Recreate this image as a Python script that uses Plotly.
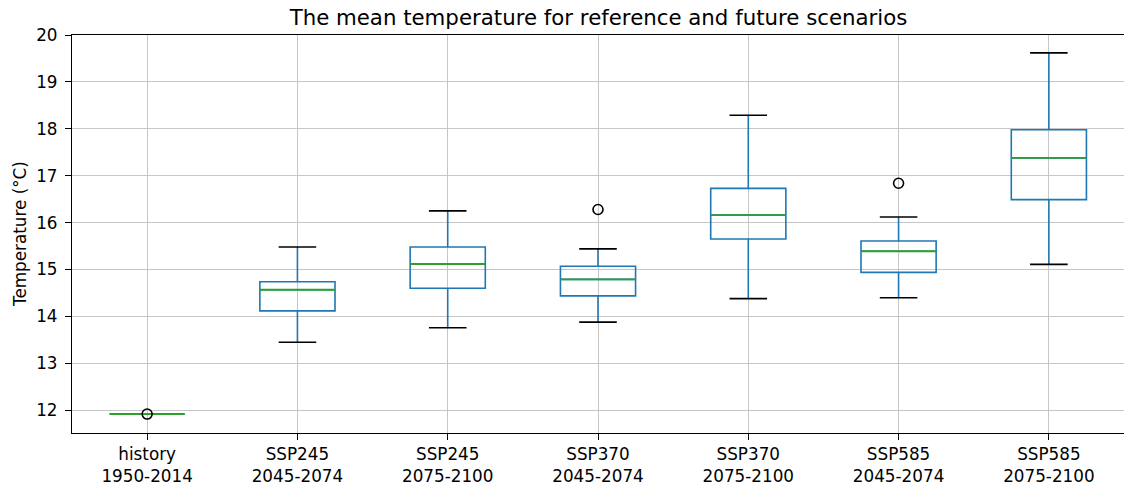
import plotly.graph_objects as go

categories = ["history<br>1950-2014", "SSP245<br>2045-2074", "SSP245<br>2075-2100",
              "SSP370<br>2045-2074", "SSP370<br>2075-2100", "SSP585<br>2045-2074",
              "SSP585<br>2075-2100"]
lower_whisker = [11.92, 13.45, 13.76, 13.88, 14.38, 14.40, 15.11]
q1_vals = [11.92, 14.12, 14.60, 14.44, 15.65, 14.94, 16.49]
median_vals = [11.92, 14.57, 15.12, 14.79, 16.16, 15.39, 17.38]
q3_vals = [11.92, 14.74, 15.48, 15.07, 16.73, 15.61, 17.98]
upper_whisker = [11.92, 15.48, 16.25, 15.44, 18.29, 16.12, 19.62]
flier_cat = [0, 3, 5]
flier_vals = [11.92, 16.28, 16.84]

pos = list(range(1, len(categories) + 1))
BLUE = "#1f77b4"
GREEN = "#2ca02c"
LW = 1.6
FS = 16.8
GRID = "#c6c6c6"

fig = go.Figure()
fig.add_trace(go.Box(
    x=pos, q1=q1_vals, median=median_vals, q3=q3_vals,
    lowerfence=lower_whisker, upperfence=upper_whisker,
    width=0.5, whiskerwidth=0, boxpoints=False,
    line=dict(color=BLUE, width=LW), fillcolor="rgba(0,0,0,0)",
    showlegend=False, hoverinfo="skip"))

# caps
cx, cy = [], []
for p, lo, hi in zip(pos, lower_whisker, upper_whisker):
    cx += [p - 0.125, p + 0.125, None, p - 0.125, p + 0.125, None]
    cy += [lo, lo, None, hi, hi, None]
fig.add_trace(go.Scatter(x=cx, y=cy, mode="lines", line=dict(color="black", width=LW),
                         showlegend=False, hoverinfo="skip"))
# medians
mx, my = [], []
for p, m in zip(pos, median_vals):
    mx += [p - 0.25, p + 0.25, None]
    my += [m, m, None]
fig.add_trace(go.Scatter(x=mx, y=my, mode="lines", line=dict(color=GREEN, width=1.9),
                         showlegend=False, hoverinfo="skip"))
# fliers
fig.add_trace(go.Scatter(x=[pos[i] for i in flier_cat], y=flier_vals, mode="markers",
                         marker=dict(symbol="circle-open", size=10, color="black",
                                     line=dict(color="black", width=1.6)),
                         showlegend=False, hoverinfo="skip"))

fig.update_layout(
    width=1124, height=488,
    margin=dict(l=72, r=0, t=35, b=55, autoexpand=False),
    paper_bgcolor="white", plot_bgcolor="white",
    font=dict(family="DejaVu Sans", size=FS, color="black"),
    title=dict(text="The mean temperature for reference and future scenarios",
               x=0.5325, xanchor="center", y=1 - 18 / 488, yanchor="middle",
               font=dict(size=21.3, color="black")),
    annotations=[dict(text="Temperature (°C)", textangle=-90, xref="paper", yref="paper",
                      x=0, y=0.5, xanchor="center", yanchor="middle", xshift=-52,
                      showarrow=False, font=dict(size=FS, color="black"))],
)
fig.update_xaxes(range=[0.5, 7.5], tickmode="array", tickvals=pos, ticktext=categories,
                 showgrid=True, gridcolor=GRID, gridwidth=1.4, automargin=False,
                 showline=True, linecolor="black", linewidth=1.3, mirror=True,
                 ticks="outside", ticklen=6, tickwidth=1.3, tickcolor="black", zeroline=False,
                 tickfont=dict(size=FS))
fig.update_yaxes(range=[11.516, 20.0], tickmode="array", tickvals=list(range(12, 21)),
                 showgrid=True, gridcolor=GRID, gridwidth=1.4, automargin=False,
                 showline=True, linecolor="black", linewidth=1.3, mirror=False,
                 ticks="outside", ticklen=6, tickwidth=1.3, tickcolor="black", zeroline=False,
                 ticklabelstandoff=4, tickfont=dict(size=FS))

fig.write_html("out.html", config={"displayModeBar": False},
               post_script="document.body.style.margin='0px';")
